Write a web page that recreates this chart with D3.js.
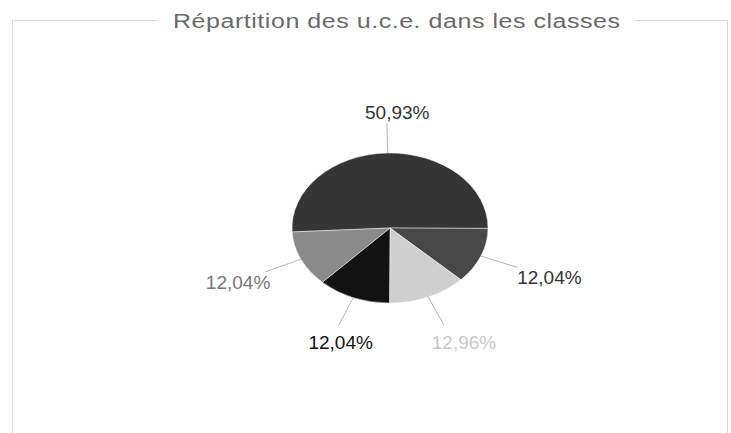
<!DOCTYPE html>
<html>
<head>
<meta charset="utf-8">
<script src="https://cdn.jsdelivr.net/npm/d3@7"></script>
<style>
  body { margin: 0; background: #fff; }
  svg { display: block; font-family: "Liberation Sans", Arial, sans-serif; }
</style>
</head>
<body>
<svg id="chart"></svg>
<script>
// Data
const title = "Répartition des u.c.e. dans les classes";
const classes = ["classe 1", "classe 2", "classe 3", "classe 4", "classe 5"];
const shares = [50.93, 12.04, 12.96, 12.04, 12.04];
const shareLabels = ["50,93%", "12,04%", "12,96%", "12,04%", "12,04%"];

const w = 731;
const h = 433;
const cx = 390;
const cy = 228;
const rx = 98;
const ry = 75;

const svg = d3.select("#chart").attr("width", w).attr("height", h);

// Fieldset-like frame
svg.append("rect")
   .attr("x", 12.5)
   .attr("y", 20.5)
   .attr("width", 715)
   .attr("height", 440)
   .attr("fill", "none")
   .attr("stroke", "#dcdcdc");

// Title sits on the frame line, stretched like the original
const titleX = 396.5;
const titleW = 447;
const stretch = 1.25;
svg.append("rect")
   .attr("x", titleX - titleW / 2 - 15)
   .attr("y", 8)
   .attr("width", titleW + 30)
   .attr("height", 26)
   .attr("fill", "#fff");
svg.append("text")
   .attr("transform", `translate(${titleX},28) scale(${stretch},1)`)
   .attr("text-anchor", "middle")
   .attr("font-size", 20)
   .attr("fill", "#6a6a6a")
   .attr("textLength", titleW / stretch)
   .attr("lengthAdjust", "spacing")
   .text(title);

// Pie
const color = d3.scaleOrdinal()
   .domain(classes)
   .range(["#353535", "#474747", "#cfcfcf", "#121212", "#8a8a8a"]);
const labelColor = d3.scaleOrdinal()
   .domain(classes)
   .range(["#333", "#333", "#c8c8c8", "#111", "#777"]);

const startAngle = -93 * Math.PI / 180;
const pie = d3.pie()
   .sort(null)
   .value((d, i) => shares[i])
   .startAngle(startAngle)
   .endAngle(startAngle + 2 * Math.PI);
const arcs = pie(classes);

const arc = d3.arc().innerRadius(0).outerRadius(rx);

const pieG = svg.append("g")
   .attr("transform", `translate(${cx},${cy}) scale(1,${ry / rx})`);

pieG.selectAll("path")
   .data(arcs)
   .enter()
   .append("path")
   .attr("d", arc)
   .attr("fill", (d) => color(d.data))
   .attr("stroke", "rgba(255,255,255,0.45)")
   .attr("stroke-width", 1)
   .attr("vector-effect", "non-scaling-stroke");

// Point on the ellipse at a given pie angle and radius factor
function ellipsePoint(a, k){
  return [cx + rx * k * Math.sin(a), cy - ry * k * Math.cos(a)];
}

const leaders = svg.append("g");
arcs.forEach((d, i) => {
  const mid = (d.startAngle + d.endAngle) / 2;
  const p0 = ellipsePoint(mid, 1);
  const p1 = ellipsePoint(mid, 1.4);
  leaders.append("line")
     .attr("x1", p0[0]).attr("y1", p0[1])
     .attr("x2", p1[0]).attr("y2", p1[1])
     .attr("stroke", "#b4b4b4")
     .attr("stroke-width", 1);

  const s = Math.sin(mid);
  const c = Math.cos(mid);
  let anchor = "middle";
  let x = p1[0] + 11 + 24 * s;
  if (s > 0.8) { anchor = "start"; x = p1[0]; }
  else if (s < -0.8) { anchor = "end"; x = p1[0] + 5; }
  const y = c > 0.5 ? p1[1] - 4 : p1[1] + 12 + 13 * Math.abs(c);

  svg.append("text")
     .attr("x", x)
     .attr("y", y)
     .attr("text-anchor", anchor)
     .attr("font-size", 19)
     .attr("fill", labelColor(d.data))
     .text(shareLabels[i]);
});
</script>
</body>
</html>
